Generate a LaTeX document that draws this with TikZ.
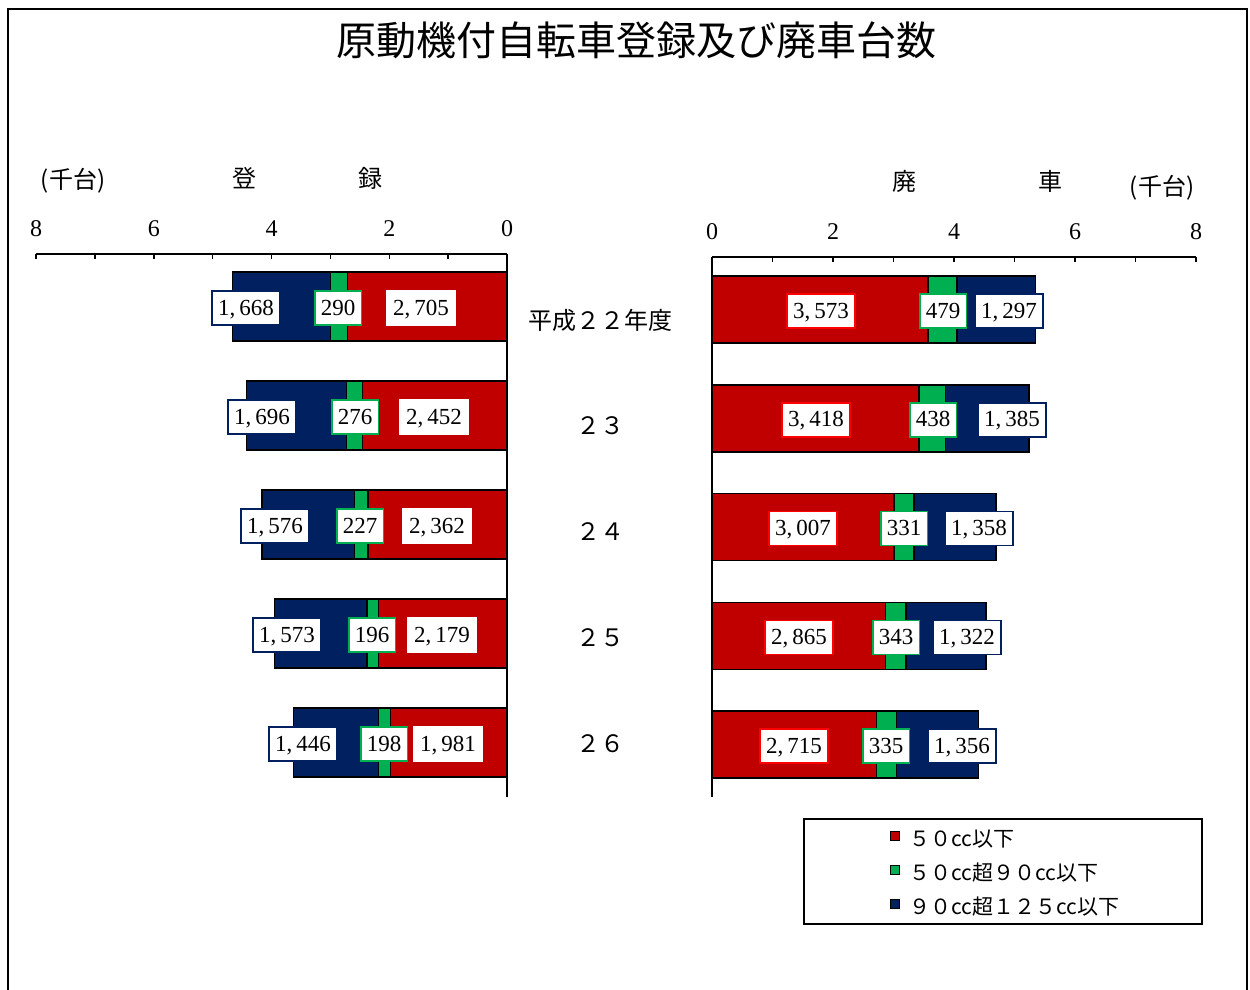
\documentclass[tikz,border=0pt]{standalone}
\usepackage{fontspec}
\setmainfont{Liberation Serif}
\newfontfamily\jp{Noto Sans CJK JP}
\definecolor{cRed}{HTML}{C00000}
\definecolor{cRedLine}{HTML}{FF0000}
\definecolor{cGreen}{HTML}{00B050}
\definecolor{cBlue}{HTML}{002060}
\tikzset{
  segment/.style={draw=black, line width=1.5pt},
  axisline/.style={line width=1.5pt},
  vallabel/.style={fill=white, line width=1.5pt, inner xsep=6pt, inner ysep=0pt,
    minimum height=34pt, text height=15pt, text depth=1pt, font=\fontsize{23}{23}\selectfont},
  ticklabel/.style={font=\fontsize{24}{24}\selectfont},
  jplabel/.style={font=\jp\fontsize{24}{24}\selectfont},
  legendtext/.style={anchor=west, inner sep=0pt, font=\jp\fontsize{21}{21}\selectfont},
  legendkey/.style={draw=black, line width=1pt, minimum size=9pt, inner sep=0pt},
}
\begin{document}
\begin{tikzpicture}[x=1pt,y=-1pt]
  \useasboundingbox (0,0) rectangle (1250,990);
  \draw[axisline] (8,1000) -- (8,9) -- (1247,9) -- (1247,1000);
  \node[font=\jp\fontsize{40}{40}\selectfont] (title) at (636,40) {原動機付自転車登録及び廃車台数};
  % axis titles
  \node[jplabel] (regunit) at (73,181) {(千台)};
  \node[jplabel] (regA) at (244,178) {登};
  \node[jplabel] (regB) at (370,178) {録};
  \node[jplabel] (scrA) at (904,181) {廃};
  \node[jplabel] (scrB) at (1050,181) {車};
  \node[jplabel] (scrunit) at (1162,188) {(千台)};
  % left axis (registration)
  \draw[axisline] (36,254) -- (507,254) (507,254) -- (507,797);
  \foreach \k in {0,...,8}
    \draw[axisline] (507-\k*58.875,254) -- ++(0,5);
  \foreach \v in {0,2,4,6,8}
    \node[ticklabel] (regtick\v) at (507-\v*58.875,229) {\v};
  % right axis (scrapped)
  \draw[axisline] (712,257) -- (1196,257) (712,257) -- (712,797);
  \foreach \k in {0,...,8}
    \draw[axisline] (712+\k*60.5,257) -- ++(0,5);
  \foreach \v in {0,2,4,6,8}
    \node[ticklabel] (scrtick\v) at (712+\v*60.5,232) {\v};
  % registration bars
  \foreach \a/\b/\c/\ta/\tb/\tc/\xa/\xb/\xc [count=\i] in {
      2.705/0.290/1.668/{2,\,705}/290/{1,\,668}/421/338/246,
      2.452/0.276/1.696/{2,\,452}/276/{1,\,696}/434/355/262,
      2.362/0.227/1.576/{2,\,362}/227/{1,\,576}/437/360/275,
      2.179/0.196/1.573/{2,\,179}/196/{1,\,573}/442/372/287,
      1.981/0.198/1.446/{1,\,981}/198/{1,\,446}/448/384/303}{
    \pgfmathsetmacro\yy{272+109*(\i-1)}
    \pgfmathsetmacro\xr{507-\a*58.875}
    \pgfmathsetmacro\xg{\xr-\b*58.875}
    \pgfmathsetmacro\xbl{\xg-\c*58.875}
    \draw[segment, fill=cRed] (\xr,\yy) rectangle (507,\yy+69);
    \draw[segment, fill=cGreen] (\xg,\yy) rectangle (\xr,\yy+69);
    \draw[segment, fill=cBlue] (\xbl,\yy) rectangle (\xg,\yy+69);
    \node[vallabel, draw=white] (regLow\i) at (\xa,\yy+36) {\ta};
    \node[vallabel, draw=cGreen] (regMid\i) at (\xb,\yy+36) {\tb};
    \node[vallabel, draw=cBlue] (regHigh\i) at (\xc,\yy+36) {\tc};
  }
  % scrapped bars
  \foreach \a/\b/\c/\ta/\tb/\tc/\xa/\xb/\xc [count=\i] in {
      3.573/0.479/1.297/{3,\,573}/479/{1,\,297}/821/943/1009,
      3.418/0.438/1.385/{3,\,418}/438/{1,\,385}/816/933/1012,
      3.007/0.331/1.358/{3,\,007}/331/{1,\,358}/803/904/979,
      2.865/0.343/1.322/{2,\,865}/343/{1,\,322}/799/896/967,
      2.715/0.335/1.356/{2,\,715}/335/{1,\,356}/794/886/962}{
    \pgfmathsetmacro\yy{276+108.8*(\i-1)}
    \pgfmathsetmacro\xr{712+\a*60.5}
    \pgfmathsetmacro\xg{\xr+\b*60.5}
    \pgfmathsetmacro\xbl{\xg+\c*60.5}
    \draw[segment, fill=cRed] (712,\yy) rectangle (\xr,\yy+67);
    \draw[segment, fill=cGreen] (\xr,\yy) rectangle (\xg,\yy+67);
    \draw[segment, fill=cBlue] (\xg,\yy) rectangle (\xbl,\yy+67);
    \node[vallabel, draw=cRedLine] (scrLow\i) at (\xa,\yy+35) {\ta};
    \node[vallabel, draw=cGreen] (scrMid\i) at (\xb,\yy+35) {\tb};
    \node[vallabel, draw=cBlue] (scrHigh\i) at (\xc,\yy+35) {\tc};
  }
  % years
  \foreach \t [count=\i] in {平成２２年度,２３,２４,２５,２６}{
    \pgfmathsetmacro\yy{320+106*(\i-1)}
    \node[jplabel] (year\i) at (600,\yy) {\t};
  }
  % legend
  \node[draw, line width=1.5pt, minimum width=398pt, minimum height=105pt] (legend) at (1003,871.5) {};
  \node[legendkey, fill=cRed] (keyLow) at (895,836) {};
  \node[legendkey, fill=cGreen] (keyMid) at (895,870) {};
  \node[legendkey, fill=cBlue] (keyHigh) at (895,904) {};
  \node[legendtext] (txtLow) at (909,839) {５０cc以下};
  \node[legendtext] (txtMid) at (909,873) {５０cc超９０cc以下};
  \node[legendtext] (txtHigh) at (909,907) {９０cc超１２５cc以下};
\end{tikzpicture}
\end{document}
